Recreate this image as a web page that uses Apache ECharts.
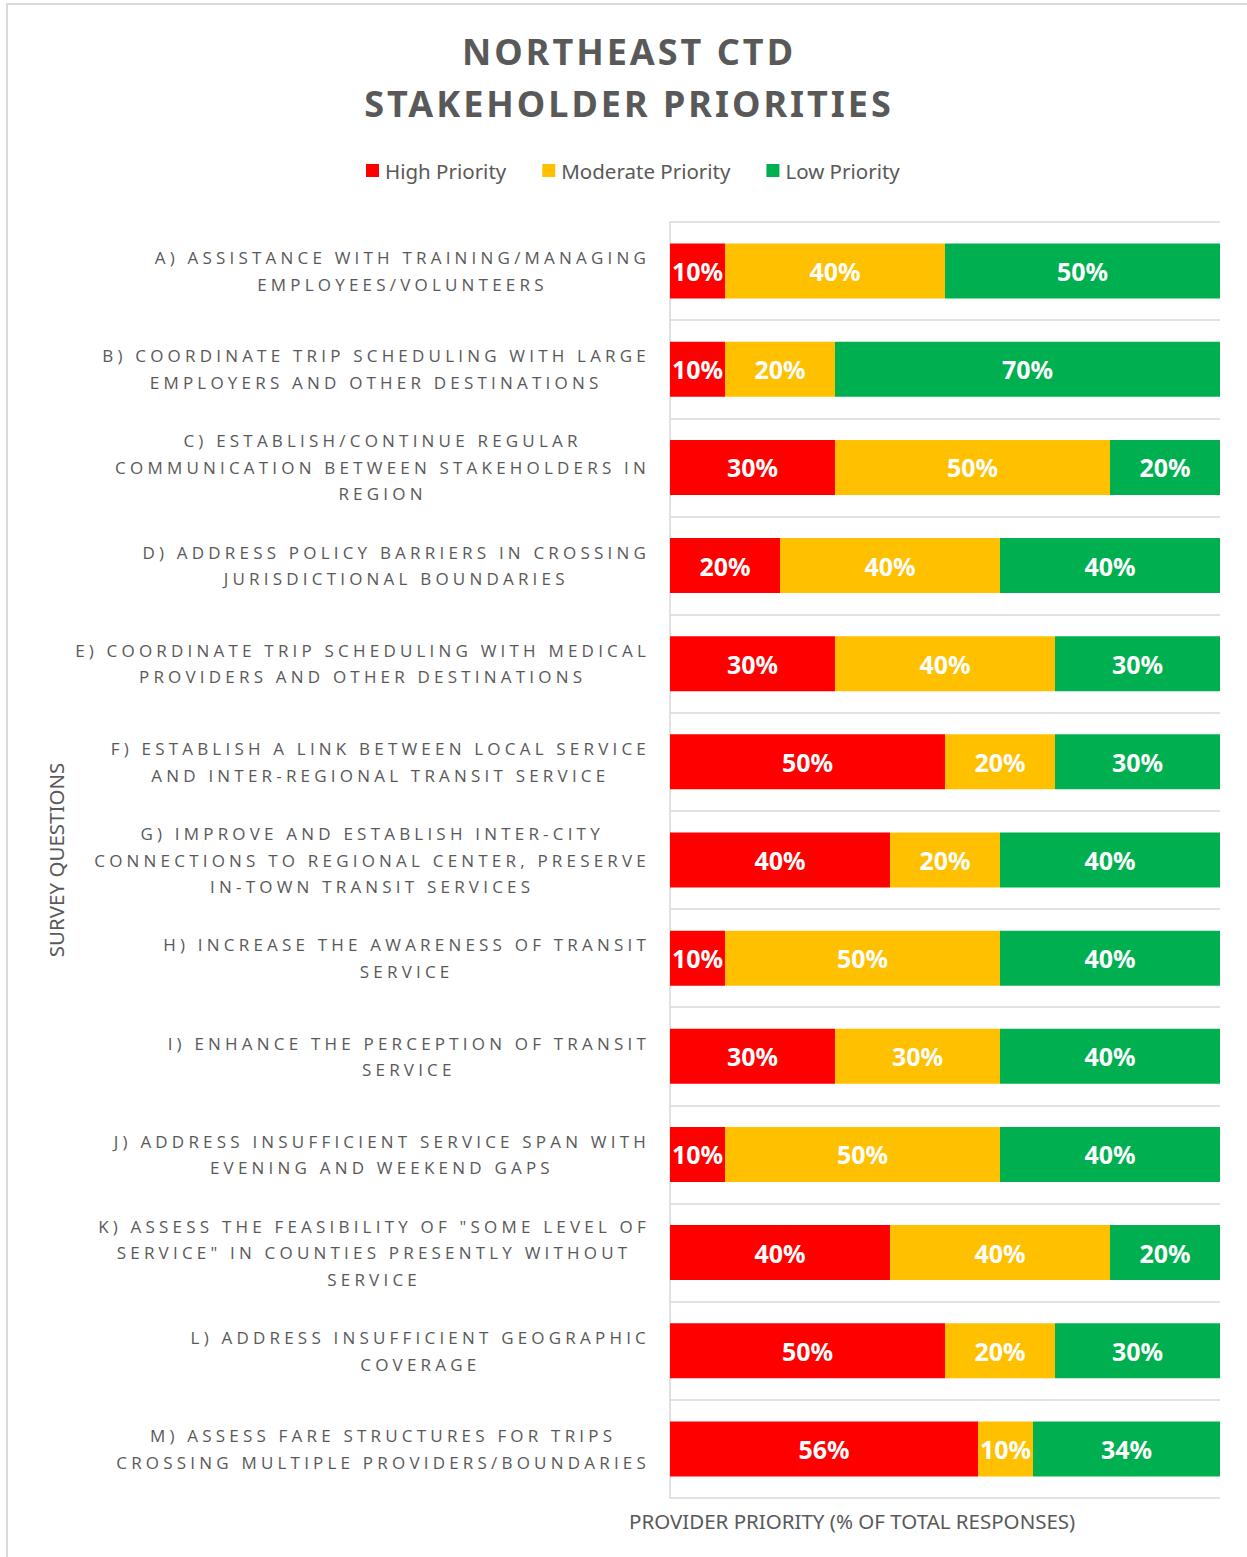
<!DOCTYPE html>
<html>
<head>
<meta charset="utf-8">
<script src="https://cdn.jsdelivr.net/npm/echarts@6/dist/echarts.min.js"></script>
<style>
  html, body { margin: 0; padding: 0; background: #ffffff; }
  #chart { width: 1247px; height: 1557px; }
  #chart text[style*="LabelLS"] { letter-spacing: 4.2px; }
  #chart text[style*="TitleLS"] { letter-spacing: 3px; }
</style>
</head>
<body>
<div id="chart"></div>
<script>
// ---- data ----
const categories = [
  'A) ASSISTANCE WITH TRAINING/MANAGING\nEMPLOYEES/VOLUNTEERS',
  'B) COORDINATE TRIP SCHEDULING WITH LARGE\nEMPLOYERS AND OTHER DESTINATIONS',
  'C) ESTABLISH/CONTINUE REGULAR\nCOMMUNICATION BETWEEN STAKEHOLDERS IN\nREGION',
  'D) ADDRESS POLICY BARRIERS IN CROSSING\nJURISDICTIONAL BOUNDARIES',
  'E) COORDINATE TRIP SCHEDULING WITH MEDICAL\nPROVIDERS AND OTHER DESTINATIONS',
  'F) ESTABLISH A LINK BETWEEN LOCAL SERVICE\nAND INTER-REGIONAL TRANSIT SERVICE',
  'G) IMPROVE AND ESTABLISH INTER-CITY\nCONNECTIONS TO REGIONAL CENTER, PRESERVE\nIN-TOWN TRANSIT SERVICES',
  'H) INCREASE THE AWARENESS OF TRANSIT\nSERVICE',
  'I) ENHANCE THE PERCEPTION OF TRANSIT\nSERVICE',
  'J) ADDRESS INSUFFICIENT SERVICE SPAN WITH\nEVENING AND WEEKEND GAPS',
  'K) ASSESS THE FEASIBILITY OF "SOME LEVEL OF\nSERVICE" IN COUNTIES PRESENTLY WITHOUT\nSERVICE',
  'L) ADDRESS INSUFFICIENT GEOGRAPHIC\nCOVERAGE',
  'M) ASSESS FARE STRUCTURES FOR TRIPS\nCROSSING MULTIPLE PROVIDERS/BOUNDARIES'
];
const highPriority     = [10, 10, 30, 20, 30, 50, 40, 10, 30, 10, 40, 50, 56];
const moderatePriority = [40, 20, 50, 40, 40, 20, 20, 50, 30, 50, 40, 20, 10];
const lowPriority      = [50, 70, 20, 40, 30, 30, 40, 40, 40, 40, 20, 30, 34];
const seriesNames = ['High Priority', 'Moderate Priority', 'Low Priority'];
const titleText = 'NORTHEAST CTD\nSTAKEHOLDER PRIORITIES';
const xAxisTitle = 'PROVIDER PRIORITY (% OF TOTAL RESPONSES)';
const yAxisTitle = 'SURVEY QUESTIONS';

// ---- letter-spacing aware text measuring (matches CSS letter-spacing in SVG) ----
const LABEL_LS = 4.2, TITLE_LS = 3;
const mctx = document.createElement('canvas').getContext('2d');
if (echarts.setPlatformAPI) {
  echarts.setPlatformAPI({
    measureText: function (text, font) {
      mctx.font = font || '12px sans-serif';
      let w = mctx.measureText(text).width;
      const n = Array.from(text || '').length;
      if (font && font.indexOf('LabelLS') >= 0) w += n * LABEL_LS;
      else if (font && font.indexOf('TitleLS') >= 0) w += n * TITLE_LS;
      return { width: w };
    }
  });
}

const GRAY = '#595959';
const LINE = '#D9D9D9';
const colors = ['#FF0000', '#FFC000', '#00B050'];
const seriesData = [highPriority, moderatePriority, lowPriority];

const chart = echarts.init(document.getElementById('chart'), null, { renderer: 'svg' });

const option = {
  animation: false,
  backgroundColor: '#ffffff',
  color: colors,
  title: [
    {
      text: titleText,
      left: 629,
      top: 25,
      textAlign: 'center',
      padding: 0,
      textStyle: {
        fontFamily: "'Noto Sans', TitleLS",
        fontWeight: 'bold',
        fontSize: 36,
        lineHeight: 52,
        color: GRAY
      }
    },
    {
      text: xAxisTitle,
      left: 629,
      top: 1510,
      padding: 0,
      textStyle: {
        fontFamily: "'Noto Sans'",
        fontWeight: 'normal',
        fontSize: 20.5,
        color: GRAY
      }
    }
  ],
  legend: {
    data: seriesNames,
    left: 361,
    top: 155,
    icon: 'rect',
    itemWidth: 13,
    itemHeight: 13,
    itemGap: 36,
    textStyle: {
      fontFamily: "'Noto Sans'",
      fontSize: 20.5,
      color: GRAY,
      padding: [0, 0, 0, 1]
    }
  },
  graphic: [
    {
      type: 'rect',
      silent: true,
      shape: { x: 7, y: 4, width: 1300, height: 1600 },
      style: { fill: 'none', stroke: LINE, lineWidth: 2 }
    }
  ],
  grid: {
    left: 670,
    right: 27,
    top: 222,
    bottom: 59,
    containLabel: false
  },
  xAxis: {
    type: 'value',
    min: 0,
    max: 100,
    show: false
  },
  yAxis: {
    type: 'category',
    data: categories,
    inverse: true,
    name: yAxisTitle,
    nameLocation: 'middle',
    nameRotate: 90,
    nameGap: 604,
    nameTextStyle: {
      fontFamily: "'Noto Sans'",
      fontSize: 20.5,
      color: GRAY
    },
    axisLine: { show: true, lineStyle: { color: LINE, width: 1.5 } },
    axisTick: { show: false },
    splitLine: { show: true, lineStyle: { color: LINE, width: 1.5 } },
    axisLabel: {
      interval: 0,
      align: 'right',
      margin: 20,
      formatter: function (v) {
        return v.split('\n').map(function (s) { return '{c|' + s + '}'; }).join('\n');
      },
      rich: {
        c: {
          align: 'center',
          fontFamily: "'Open Sans', LabelLS",
          fontSize: 17,
          lineHeight: 26.5,
          color: GRAY
        }
      }
    }
  },
  series: seriesNames.map(function (name, i) {
    return {
      name: name,
      type: 'bar',
      stack: 'total',
      barWidth: 55,
      data: seriesData[i],
      itemStyle: { color: colors[i] },
      label: {
        show: true,
        position: 'inside',
        formatter: '{c}%',
        color: '#ffffff',
        fontFamily: "'Noto Sans'",
        fontWeight: 'bold',
        fontSize: 25,
        textBorderWidth: 0
      },
      emphasis: { disabled: true }
    };
  })
};

chart.setOption(option);
</script>
</body>
</html>
